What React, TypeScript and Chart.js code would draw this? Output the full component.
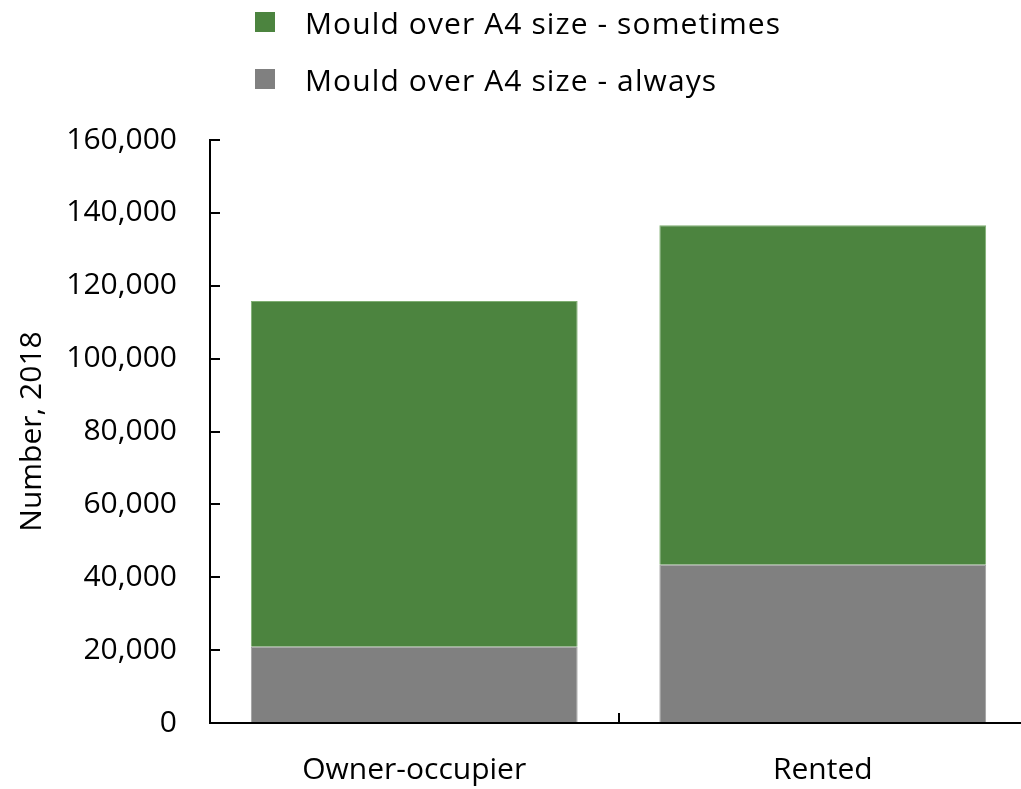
import React, { useEffect, useRef } from "react";
import { Chart, registerables } from "chart.js";

Chart.register(...registerables);

const categories = ["Owner-occupier", "Rented"];
const alwaysValues = [20900, 43400];
const sometimesValues = [94900, 93200];
const yTickValues = [0, 20000, 40000, 60000, 80000, 100000, 120000, 140000, 160000];
const seriesLabels = ["Mould over A4 size - sometimes", "Mould over A4 size - always"];
const seriesColors = ["#4C843F", "#808080"];
const axisTitle = "Number, 2018";

const FONT = "'Open Sans', 'Noto Sans', sans-serif";

export default function App() {
  const ref = useRef<HTMLCanvasElement>(null);

  useEffect(() => {
    document.body.style.margin = "0";
    document.body.style.overflow = "hidden";
    const chart = new Chart(ref.current as HTMLCanvasElement, {
      type: "bar",
      data: {
        labels: categories,
        datasets: [
          {
            label: seriesLabels[1],
            data: alwaysValues,
            backgroundColor: seriesColors[1],
            borderColor: "#a0a0a0",
            borderWidth: 1,
          },
          {
            label: seriesLabels[0],
            data: sometimesValues,
            backgroundColor: seriesColors[0],
            borderColor: "#7fae72",
            borderWidth: 1,
          },
        ],
      },
      options: {
        responsive: false,
        animation: false,
        layout: { padding: { top: 140, left: 0, right: 3, bottom: 0 } },
        plugins: { legend: { display: false }, tooltip: { enabled: false } },
        datasets: { bar: { categoryPercentage: 1, barPercentage: 0.8 } },
        scales: {
          x: {
            stacked: true,
            grid: {
              offset: true,
              drawOnChartArea: false,
              drawTicks: true,
              tickLength: -10,
              color: "#000",
              lineWidth: 2,
            },
            border: { color: "#000", width: 2 },
            ticks: { color: "#000", font: { family: FONT, size: 30 }, padding: 39 },
            afterFit: (s: any) => {
              s.height = 66;
            },
          },
          y: {
            stacked: true,
            min: 0,
            max: 160000,
            afterBuildTicks: (s: any) => {
              s.ticks = yTickValues.map((v) => ({ value: v }));
            },
            grid: {
              drawOnChartArea: false,
              drawTicks: true,
              tickLength: -10,
              color: "#000",
              lineWidth: 2,
            },
            border: { color: "#000", width: 2 },
            ticks: {
              color: "#000",
              font: { family: FONT, size: 30 },
              padding: 43,
              callback: (v: any) => Number(v).toLocaleString("en-US"),
            },
            title: {
              display: true,
              text: axisTitle,
              color: "#000",
              font: { family: FONT, size: 30 },
              padding: { top: 14, bottom: 0 },
            },
            afterFit: (s: any) => {
              s.width = 210;
            },
          },
        },
      },
    });
    return () => chart.destroy();
  }, []);

  const rowStyle: React.CSSProperties = {
    position: "absolute",
    left: 255,
    display: "flex",
    alignItems: "center",
    height: 40,
    fontFamily: FONT,
    fontSize: 30,
    letterSpacing: 1.1,
    color: "#000",
    whiteSpace: "nowrap",
  };
  const boxStyle = (c: string): React.CSSProperties => ({
    width: 20,
    height: 20,
    background: c,
    marginRight: 30,
    flex: "0 0 auto",
  });

  return (
    <div style={{ position: "relative", width: 1021, height: 789, overflow: "hidden" }}>
      <canvas ref={ref} width={1030} height={789} style={{ position: "absolute", left: 0, top: 0 }} />
      <div style={{ ...rowStyle, top: 2 }}>
        <span style={boxStyle(seriesColors[0])} />
        <span>{seriesLabels[0]}</span>
      </div>
      <div style={{ ...rowStyle, top: 59 }}>
        <span style={boxStyle(seriesColors[1])} />
        <span>{seriesLabels[1]}</span>
      </div>
    </div>
  );
}
